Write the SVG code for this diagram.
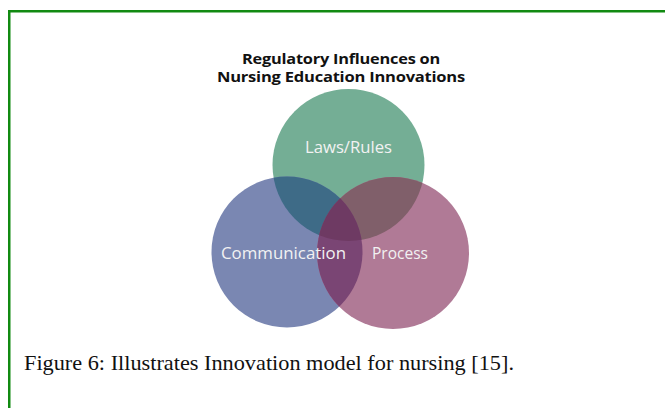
<svg xmlns="http://www.w3.org/2000/svg" width="665" height="408" viewBox="0 0 665 408">
<style>
.title{font-family:"Open Sans","Liberation Sans",sans-serif;font-weight:bold;font-size:14.5px;fill:#111;text-anchor:middle;letter-spacing:-0.2px}
.lbl{font-family:"Open Sans","Liberation Sans",sans-serif;font-size:16.5px;fill:#f2f2f2;text-anchor:middle}
.cap{font-family:"Liberation Serif","DejaVu Serif",serif;font-size:21.5px;fill:#111}
</style>
<defs>
<clipPath id="cG"><circle cx="348.5" cy="165" r="76"/></clipPath>
<clipPath id="cB"><circle cx="287" cy="252" r="75.5"/></clipPath>
<clipPath id="cP"><circle cx="393" cy="253" r="76"/></clipPath>
</defs>
<rect width="665" height="408" fill="#fff"/>
<g id="frame" fill="#118a11">
<rect x="8" y="10" width="657" height="2.5"/>
<rect x="8" y="10" width="2.5" height="398"/>
</g>
<g id="title">
<text class="title" x="341" y="64" textLength="198" lengthAdjust="spacingAndGlyphs">Regulatory Influences on</text>
<text class="title" x="341" y="81.5" textLength="248" lengthAdjust="spacingAndGlyphs">Nursing Education Innovations</text>
</g>
<g id="laws-rules">
<circle cx="348.5" cy="165" r="76" fill="#74ae95"/>
</g>
<g id="communication">
<circle cx="287" cy="252" r="75.5" fill="#7a87b2"/>
</g>
<g id="process">
<circle cx="393" cy="253" r="76" fill="#b07a96"/>
</g>
<g id="overlaps">
<g clip-path="url(#cG)"><circle cx="287" cy="252" r="75.5" fill="#3e6b87"/><circle cx="393" cy="253" r="76" fill="#805f6a"/></g>
<g clip-path="url(#cB)"><circle cx="393" cy="253" r="76" fill="#7a4574"/></g>
<g clip-path="url(#cB)"><g clip-path="url(#cP)"><circle cx="348.5" cy="165" r="76" fill="#6e3a63"/></g></g>
</g>
<g id="labels">
<text class="lbl" x="348.5" y="153" textLength="87" lengthAdjust="spacingAndGlyphs">Laws/Rules</text>
<text class="lbl" x="283.5" y="259" textLength="125" lengthAdjust="spacingAndGlyphs">Communication</text>
<text class="lbl" x="400" y="259" textLength="56" lengthAdjust="spacingAndGlyphs">Process</text>
</g>
<text id="caption" class="cap" x="24" y="370" textLength="490" lengthAdjust="spacingAndGlyphs">Figure 6: Illustrates Innovation model for nursing [15].</text>
</svg>
